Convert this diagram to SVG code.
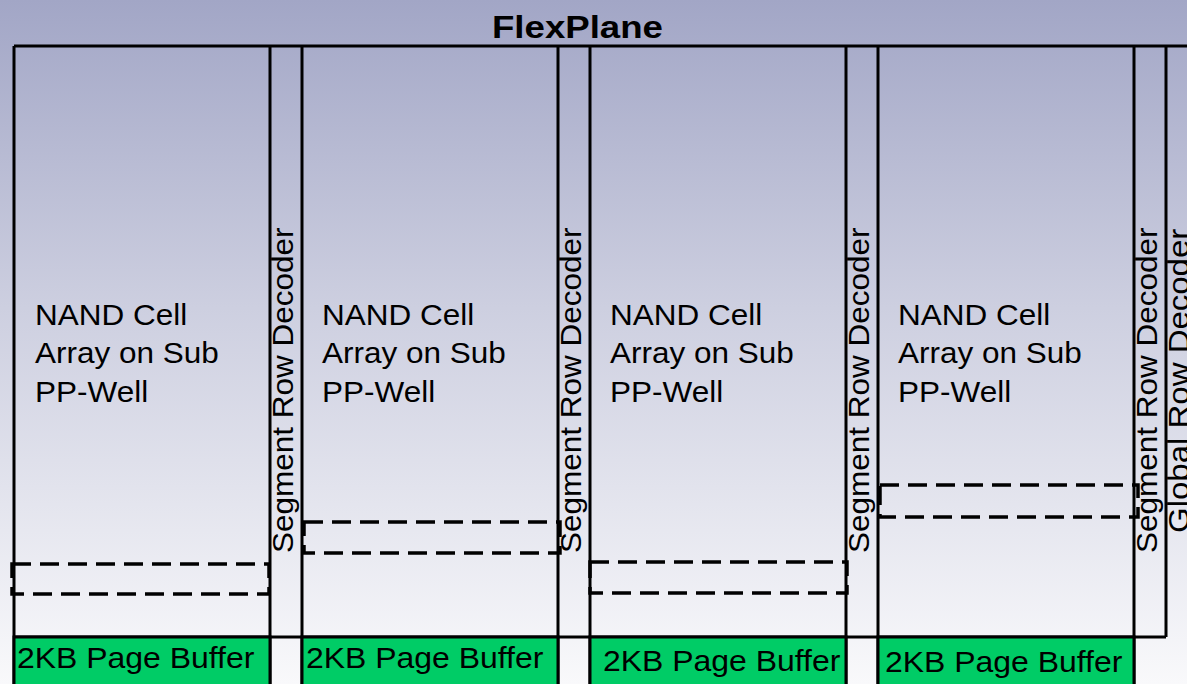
<svg xmlns="http://www.w3.org/2000/svg" width="1187" height="684" viewBox="0 0 1187 684">
  <defs>
    <linearGradient id="bg" x1="0" y1="0" x2="0" y2="1">
      <stop offset="0" stop-color="#A2A6C6"/>
      <stop offset="0.45" stop-color="#CDCFE0"/>
      <stop offset="1" stop-color="#F9F9FB"/>
    </linearGradient>
    <style>
      .line { stroke: #000; stroke-width: 3; fill: none; }
      .dash { fill: none; stroke: #000; stroke-width: 3.5; stroke-dasharray: 19 9; }
      .buf { fill: #00CC66; stroke: #000; stroke-width: 3; }
      .t { font-family: "Liberation Sans", Arial, sans-serif; font-size: 30px; fill: #000; }
      .title { font-family: "Liberation Sans", Arial, sans-serif; font-size: 32px; font-weight: bold; fill: #000; }
    </style>
  </defs>

  <rect x="0" y="0" width="1187" height="684" fill="url(#bg)"/>

  <text class="title" transform="translate(492 38) scale(1.145 1)">FlexPlane</text>

  <!-- outer plane frame and column dividers -->
  <g id="plane">
    <path class="line" d="M14 46 H1190 M14 46 V690"/>
    <path class="line" d="M14 637 H1166"/>
    <path class="line" d="M270 46 V690 M302 46 V690 M558 46 V690 M590 46 V690 M846 46 V690 M878 46 V690 M1134 46 V690 M1166 46 V637"/>
  </g>

  <!-- cell arrays -->
  <g id="array1">
    <text class="t" transform="translate(35 325) scale(1.05 1)">NAND Cell</text>
    <text class="t" transform="translate(35 363) scale(1.05 1)">Array on Sub</text>
    <text class="t" transform="translate(35 402) scale(1.05 1)">PP-Well</text>
  </g>
  <g id="array2">
    <text class="t" transform="translate(322 325) scale(1.05 1)">NAND Cell</text>
    <text class="t" transform="translate(322 363) scale(1.05 1)">Array on Sub</text>
    <text class="t" transform="translate(322 402) scale(1.05 1)">PP-Well</text>
  </g>
  <g id="array3">
    <text class="t" transform="translate(610 325) scale(1.05 1)">NAND Cell</text>
    <text class="t" transform="translate(610 363) scale(1.05 1)">Array on Sub</text>
    <text class="t" transform="translate(610 402) scale(1.05 1)">PP-Well</text>
  </g>
  <g id="array4">
    <text class="t" transform="translate(898 325) scale(1.05 1)">NAND Cell</text>
    <text class="t" transform="translate(898 363) scale(1.05 1)">Array on Sub</text>
    <text class="t" transform="translate(898 402) scale(1.05 1)">PP-Well</text>
  </g>

  <!-- row decoders (vertical labels) -->
  <g id="decoder1">
    <text class="t" transform="translate(293 553) rotate(-90) scale(1.05 1)">Segment Row Decoder</text>
  </g>
  <g id="decoder2">
    <text class="t" transform="translate(581 553) rotate(-90) scale(1.05 1)">Segment Row Decoder</text>
  </g>
  <g id="decoder3">
    <text class="t" transform="translate(869 553) rotate(-90) scale(1.05 1)">Segment Row Decoder</text>
  </g>
  <g id="decoder4">
    <text class="t" transform="translate(1157 553) rotate(-90) scale(1.05 1)">Segment Row Decoder</text>
  </g>
  <g id="global-decoder">
    <text class="t" transform="translate(1189 533) rotate(-90) scale(1.1 1)">Global Row Decoder</text>
  </g>

  <!-- selected block windows -->
  <g id="blocks">
    <rect class="dash" x="12" y="564" width="257" height="30"/>
    <rect class="dash" x="304" y="522" width="256" height="31"/>
    <rect class="dash" x="590" y="562" width="257" height="31"/>
    <rect class="dash" x="880" y="485" width="258" height="32"/>
  </g>

  <!-- page buffers -->
  <g id="buffer1">
    <rect class="buf" x="14" y="637" width="256" height="60"/>
    <text class="t" transform="translate(17 668) scale(1.065 1)">2KB Page Buffer</text>
  </g>
  <g id="buffer2">
    <rect class="buf" x="302" y="637" width="256" height="60"/>
    <text class="t" transform="translate(306 668) scale(1.065 1)">2KB Page Buffer</text>
  </g>
  <g id="buffer3">
    <rect class="buf" x="590" y="637" width="256" height="60"/>
    <text class="t" transform="translate(603 671) scale(1.065 1)">2KB Page Buffer</text>
  </g>
  <g id="buffer4">
    <rect class="buf" x="878" y="637" width="256" height="60"/>
    <text class="t" transform="translate(885 672) scale(1.065 1)">2KB Page Buffer</text>
  </g>
</svg>
